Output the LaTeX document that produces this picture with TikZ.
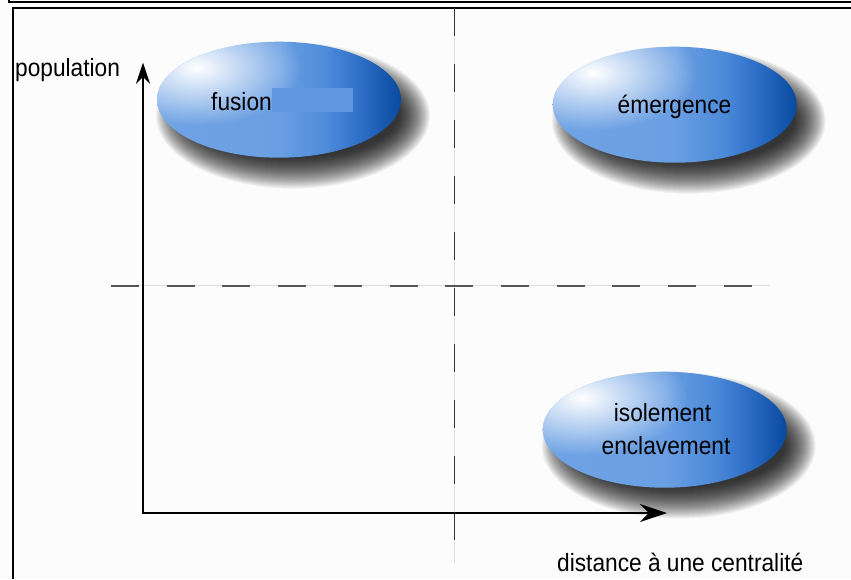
\documentclass[tikz,border=0pt]{standalone}
\usepackage{fontspec}
\setmainfont{Liberation Sans}
\usetikzlibrary{shapes.geometric,arrows.meta,fadings}
\definecolor{bgc}{HTML}{FCFCFC}
\definecolor{bA}{HTML}{6FA3E4}
\definecolor{bB}{HTML}{6A9FE3}
\definecolor{bC}{HTML}{4C8AD9}
\definecolor{bD}{HTML}{2A6BC4}
\definecolor{bE}{HTML}{084A9E}
\definecolor{dashc}{HTML}{555555}
\definecolor{thinc}{HTML}{DDDDDD}
\definecolor{artc}{HTML}{6197DE}
\pgfdeclarehorizontalshading{blobshade}{100bp}{color(0bp)=(bA); color(25bp)=(bA); color(50bp)=(bB); color(60bp)=(bC); color(67.5bp)=(bD); color(75bp)=(bE); color(100bp)=(bE)}
\tikzfading[name=hlfade, inner color=transparent!0, outer color=transparent!100]
\newcommand\vstr[1]{\scalebox{1}[1.1]{#1}}
\newcommand\blobshadow[2]{\foreach \k in {0,...,31}{\fill[black,opacity=0.042] (#1+14,-#2-16) ellipse ({106+\k} and {42+\k});}}
\newcommand\blobhl[2]{\begin{scope}\clip (#1,-#2) ellipse (122 and 58);\fill[white,path fading=hlfade] (#1-82,-#2+32) ellipse (104 and 58);\end{scope}}
\tikzset{
 lbl/.style={font=\fontsize{22.7pt}{27pt}\selectfont, inner sep=0pt, text=black},
 blob/.style={shape=ellipse, minimum width=244pt, minimum height=116pt, inner sep=0pt, shade, shading=blobshade},
 frameline/.style={line width=1.8pt, black},
 axisline/.style={line width=2pt, black},
 dashline/.style={line width=1.6pt, dashc, dash pattern=on 28pt off 27.7pt},
 thinline/.style={line width=0.6pt, thinc},
}
\begin{document}
\begin{tikzpicture}[x=1pt,y=1pt]
\useasboundingbox (0,0) rectangle (851,-579);
\fill[bgc] (0,0) rectangle (851,-579);
% frame
\draw[frameline] (9,0) -- (9,-2) -- (851,-2);
\draw[frameline] (13,-579) -- (13,-8) -- (851,-8);
% quadrant lines
\draw[thinline] (454.5,-8) -- (454.5,-563);
\draw[dashline, dash pattern=on 28pt off 28pt, dashc!60!black] (454.5,-8) -- (454.5,-563);
\draw[thinline] (111,-285.7) -- (770,-285.7);
\draw[dashline] (111,-285.7) -- (770,-285.7);
% axes
\coordinate (origin) at (143,-513);
\coordinate (ytip) at (143,-62.7);
\coordinate (xtip) at (667,-513);
\draw[axisline, {Stealth[length=21pt,width=14pt]}-{Stealth[length=27pt,width=18pt]}] (ytip) |- (xtip);
% blobs
\blobshadow{279}{99.7}
\node[blob] (fusionblob) at (279,-99.7) {};
\blobhl{279}{99.7}
\fill[artc] (271.7,-88.3) rectangle (353.3,-111.7);
\blobshadow{674.7}{104.7}
\node[blob] (emblob) at (674.7,-104.7) {};
\blobhl{674.7}{104.7}
\blobshadow{664.7}{429.7}
\node[blob] (isoblob) at (664.7,-429.7) {};
\blobhl{664.7}{429.7}
% labels
\node[lbl, anchor=base west] (poplbl) at (15,-76) {\vstr{population}};
\node[lbl, anchor=base west] (fusionlbl) at (211,-110) {\vstr{fusion}};
\node[lbl, anchor=base] (emlbl) at (674.5,-113) {\vstr{émergence}};
\node[lbl, anchor=base] (isolbl) at (662.5,-421.7) {\vstr{isolement}};
\node[lbl, anchor=base] (enclbl) at (666,-454.3) {\vstr{enclavement}};
\node[lbl, anchor=base west] (distlbl) at (557,-571.7) {\vstr{distance à une centralité}};
\end{tikzpicture}
\end{document}
